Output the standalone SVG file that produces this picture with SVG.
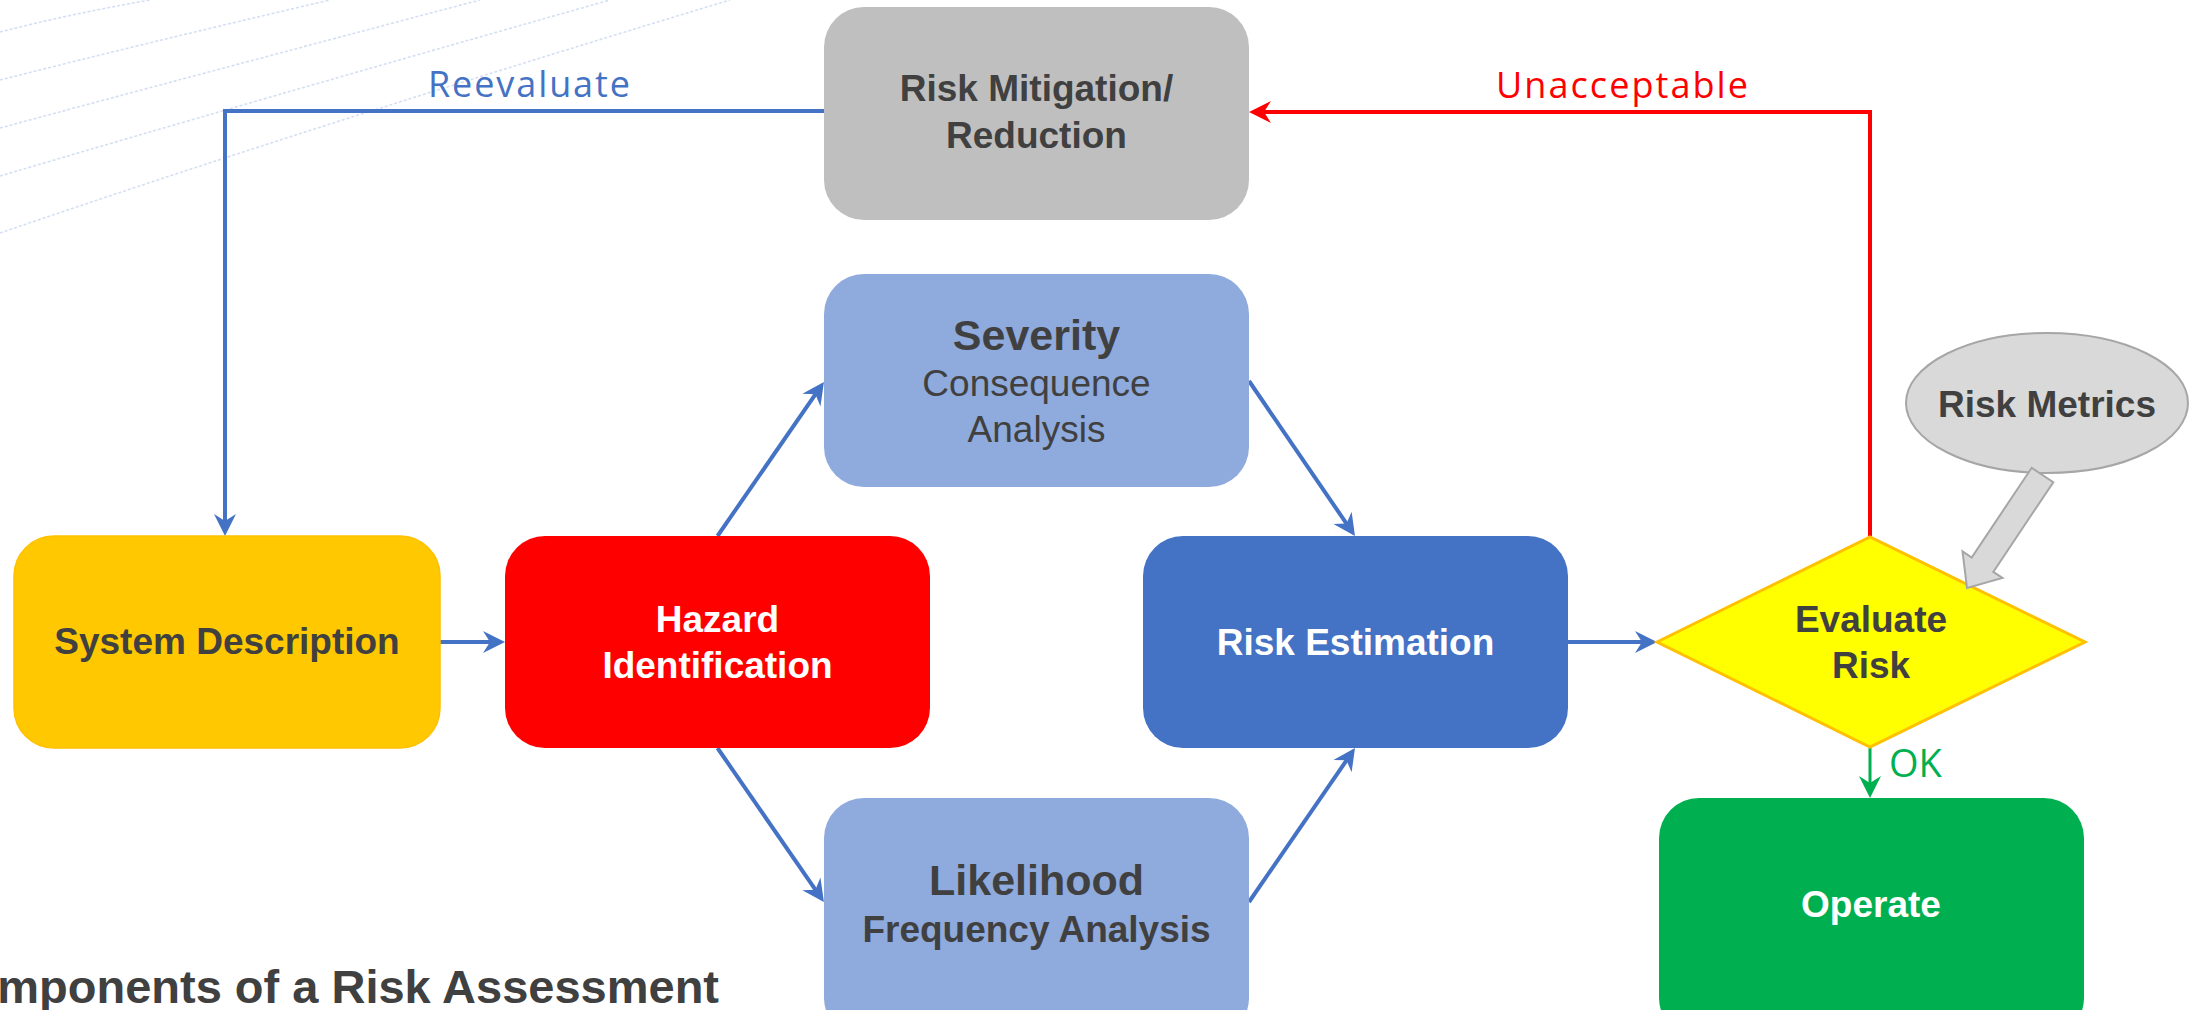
<svg xmlns="http://www.w3.org/2000/svg" width="2201" height="1010" viewBox="0 0 2201 1010">
  <style>
    .lbl { font-family: "Liberation Sans", Arial, sans-serif; font-weight: bold; font-size: 37px; text-anchor: middle; }
    .dark { fill: #404040; }
    .light { fill: #FFFFFF; }
    .reg { font-weight: normal; }
    .big { font-size: 43px; }
    .flow { font-family: "Open Sans", "Lato", sans-serif; font-weight: normal; font-size: 36px; }
    .conn { fill: none; stroke-width: 4; stroke-linejoin: miter; }
    .blue { stroke: #4472C4; }
    .red { stroke: #FF0000; }
    .green { stroke: #00B050; stroke-width: 3; }
    .swoosh { fill: none; stroke: #C3D2EE; stroke-width: 1.6; stroke-dasharray: 3 2; opacity: 0.7; }
  </style>
  <defs>
    <marker id="arrowBlue" markerUnits="userSpaceOnUse" viewBox="-24 -12 26 24" refX="-12" refY="0" markerWidth="26" markerHeight="24" orient="auto">
      <path d="M0,0 L-22,-11 L-15,0 L-22,11 Z" fill="#4472C4"/>
    </marker>
    <marker id="arrowRed" markerUnits="userSpaceOnUse" viewBox="-24 -12 26 24" refX="-12" refY="0" markerWidth="26" markerHeight="24" orient="auto">
      <path d="M0,0 L-22,-11 L-15,0 L-22,11 Z" fill="#FF0000"/>
    </marker>
    <marker id="arrowGreen" markerUnits="userSpaceOnUse" viewBox="-24 -12 26 24" refX="-12" refY="0" markerWidth="26" markerHeight="24" orient="auto">
      <path d="M0,0 L-22,-11 L-15,0 L-22,11 Z" fill="#00B050"/>
    </marker>
  </defs>

  <rect x="0" y="0" width="2201" height="1010" fill="#FFFFFF"/>

  <!-- decorative sweep lines, top left -->
  <g id="background-sweeps">
    <path class="swoosh" d="M0,32 Q70,14 150,0"/>
    <path class="swoosh" d="M0,80 Q150,42 330,0"/>
    <path class="swoosh" d="M0,128 Q200,74 480,0"/>
    <path class="swoosh" d="M0,176 Q250,102 610,0"/>
    <path class="swoosh" d="M0,233 Q300,130 730,0"/>
  </g>

  <!-- connectors -->
  <g id="connectors">
    <path class="conn blue" d="M824,111 H225 V524" marker-end="url(#arrowBlue)"/>
    <path class="conn blue" d="M440,642 H493" marker-end="url(#arrowBlue)"/>
    <path class="conn blue" d="M717.5,536 L817.1,391.9" marker-end="url(#arrowBlue)"/>
    <path class="conn blue" d="M717.5,748 L817.1,892.1" marker-end="url(#arrowBlue)"/>
    <path class="conn blue" d="M1249,381 L1348.2,526.1" marker-end="url(#arrowBlue)"/>
    <path class="conn blue" d="M1249,902 L1348.2,757.9" marker-end="url(#arrowBlue)"/>
    <path class="conn blue" d="M1568,642 H1645" marker-end="url(#arrowBlue)"/>
    <path class="conn red" d="M1870,537 V112 H1261" marker-end="url(#arrowRed)"/>
    <path class="conn green" d="M1870,747 V786" marker-end="url(#arrowGreen)"/>
    <text class="flow" x="428" y="97" textLength="202" lengthAdjust="spacing" fill="#4472C4">Reevaluate</text>
    <text class="flow" x="1496" y="98" textLength="252" lengthAdjust="spacing" fill="#FF0000">Unacceptable</text>
    <text class="flow" x="1889" y="777" style="font-size:38px" fill="#00B050">OK</text>
  </g>

  <g id="risk-mitigation">
    <rect x="824" y="7" width="425" height="213" rx="40" ry="40" fill="#BFBFBF"/>
    <text class="lbl dark" x="1036.5" y="101">Risk Mitigation/</text>
    <text class="lbl dark" x="1036.5" y="148">Reduction</text>
  </g>

  <g id="system-description">
    <rect x="14" y="536" width="426" height="212" rx="40" ry="40" fill="#FFC800" stroke="#FFC000" stroke-width="1.5"/>
    <text class="lbl dark" x="227" y="654">System Description</text>
  </g>

  <g id="hazard-identification">
    <rect x="505" y="536" width="425" height="212" rx="40" ry="40" fill="#FF0000"/>
    <text class="lbl light" x="717.5" y="632">Hazard</text>
    <text class="lbl light" x="717.5" y="678">Identification</text>
  </g>

  <g id="severity">
    <rect x="824" y="274" width="425" height="213" rx="40" ry="40" fill="#8FAADC"/>
    <text class="lbl dark big" x="1036.5" y="350">Severity</text>
    <text class="lbl dark reg" x="1036.5" y="396">Consequence</text>
    <text class="lbl dark reg" x="1036.5" y="442">Analysis</text>
  </g>

  <g id="likelihood">
    <rect x="824" y="798" width="425" height="240" rx="40" ry="40" fill="#8FAADC"/>
    <text class="lbl dark big" x="1036.5" y="895">Likelihood</text>
    <text class="lbl dark" x="1036.5" y="942">Frequency Analysis</text>
  </g>

  <g id="risk-estimation">
    <rect x="1143" y="536" width="425" height="212" rx="40" ry="40" fill="#4472C4"/>
    <text class="lbl light" x="1355.5" y="655">Risk Estimation</text>
  </g>

  <g id="evaluate-risk">
    <polygon points="1657,642 1870,537 2085,642 1870,747" fill="#FFFF00" stroke="#FFC000" stroke-width="3"/>
    <text class="lbl dark" x="1871" y="632">Evaluate</text>
    <text class="lbl dark" x="1871" y="678">Risk</text>
  </g>

  <g id="risk-metrics">
    <ellipse cx="2047" cy="403" rx="141" ry="70" fill="#D9D9D9" stroke="#A6A6A6" stroke-width="2"/>
    <text class="lbl dark" x="2047" y="417">Risk Metrics</text>
    <polygon points="2031.7,467.8 2053.3,482.2 1993.3,571.9 2002.5,578 1967,588 1962.5,551.4 1971.7,557.5" fill="#D9D9D9" stroke="#A6A6A6" stroke-width="2" stroke-linejoin="miter"/>
  </g>

  <g id="operate">
    <rect x="1659" y="798" width="425" height="240" rx="40" ry="40" fill="#00B050"/>
    <text class="lbl light" x="1871" y="917">Operate</text>
  </g>

  <g id="caption">
    <text class="lbl dark" x="719" y="1003" style="font-size:47px; text-anchor:end">mponents of a Risk Assessment</text>
  </g>
</svg>
